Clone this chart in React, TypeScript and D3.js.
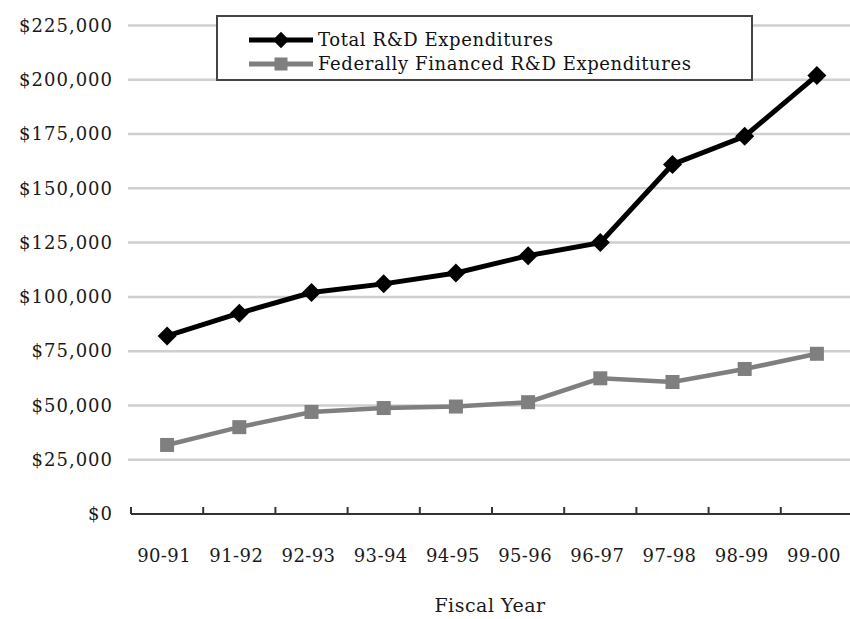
import React, { useEffect, useRef } from 'react'
import * as d3 from 'd3'

const fiscalYears = ['90-91', '91-92', '92-93', '93-94', '94-95', '95-96', '96-97', '97-98', '98-99', '99-00']
const totalRD = [82000, 92500, 102000, 106000, 111000, 119000, 125000, 161000, 174000, 202000]
const federalRD = [31800, 40000, 47000, 48800, 49500, 51500, 62500, 60800, 66800, 73800]
const yTicks = [0, 25000, 50000, 75000, 100000, 125000, 150000, 175000, 200000, 225000]
const seriesNames = ['Total R&D Expenditures', 'Federally Financed R&D Expenditures']

const FONT = '"DejaVu Serif", "Liberation Serif", serif'

const App = () => {
    const svgRef = useRef<SVGSVGElement>(null)

    useEffect(() => {
        const svg: any = d3.select(svgRef.current)
        svg.selectAll('*').remove()

        const x = d3.scaleBand<string>().domain(fiscalYears).range([131, 853]).padding(0)
        const y = d3.scaleLinear().domain([0, 225000]).range([514, 25.5])
        const cx = (d: string) => (x(d) as number) + x.bandwidth() / 2

        // gridlines
        svg.append('g')
            .selectAll('line')
            .data(yTicks.filter(t => t > 0))
            .join('line')
            .attr('x1', 128).attr('x2', 850)
            .attr('y1', (d: number) => y(d)).attr('y2', (d: number) => y(d))
            .attr('stroke', '#cfcfcf')
            .attr('stroke-width', 2.5)

        // y labels
        svg.append('g')
            .selectAll('text')
            .data(yTicks)
            .join('text')
            .attr('x', 113)
            .attr('y', (d: number) => y(d))
            .attr('dy', '0.35em')
            .attr('text-anchor', 'end')
            .attr('font-family', FONT)
            .attr('font-size', 18)
            .attr('letter-spacing', 1)
            .attr('fill', '#1a1a1a')
            .text((d: number) => d3.format('$,')(d))

        // x axis
        const xa = svg.append('g')
        xa.append('line')
            .attr('x1', 131).attr('x2', 850)
            .attr('y1', y(0)).attr('y2', y(0))
            .attr('stroke', '#333').attr('stroke-width', 2)
        xa.selectAll('.tick')
            .data(fiscalYears)
            .join('line')
            .attr('class', 'tick')
            .attr('x1', (d: string) => x(d) as number)
            .attr('x2', (d: string) => x(d) as number)
            .attr('y1', y(0)).attr('y2', y(0) - 7)
            .attr('stroke', '#333').attr('stroke-width', 2)
        xa.selectAll('.lbl')
            .data(fiscalYears)
            .join('text')
            .attr('class', 'lbl')
            .attr('x', (d: string) => cx(d) - 3)
            .attr('y', 562)
            .attr('text-anchor', 'middle')
            .attr('font-family', FONT)
            .attr('font-size', 18)
            .attr('letter-spacing', 0.4)
            .attr('fill', '#1a1a1a')
            .text((d: string) => d)
        xa.append('text')
            .attr('x', 490).attr('y', 612)
            .attr('text-anchor', 'middle')
            .attr('font-family', FONT)
            .attr('font-size', 19)
            .attr('letter-spacing', 0.5)
            .attr('fill', '#1a1a1a')
            .text('Fiscal Year')

        const line = d3.line<number>()
            .x((_, i) => cx(fiscalYears[i]))
            .y(d => y(d))

        // federal series (gray squares)
        svg.append('path')
            .attr('d', line(federalRD))
            .attr('fill', 'none')
            .attr('stroke', '#7f7f7f')
            .attr('stroke-width', 4.5)
        svg.append('g')
            .selectAll('rect')
            .data(federalRD)
            .join('rect')
            .attr('x', (_: number, i: number) => cx(fiscalYears[i]) - 7)
            .attr('y', (d: number) => y(d) - 7)
            .attr('width', 14).attr('height', 14)
            .attr('fill', '#7f7f7f')

        // total series (black diamonds)
        svg.append('path')
            .attr('d', line(totalRD))
            .attr('fill', 'none')
            .attr('stroke', '#000')
            .attr('stroke-width', 5)
        const diamond = d3.symbol().type(d3.symbolDiamond2).size(230)
        svg.append('g')
            .selectAll('path')
            .data(totalRD)
            .join('path')
            .attr('d', diamond)
            .attr('transform', (d: number, i: number) => `translate(${cx(fiscalYears[i])},${y(d)})`)
            .attr('fill', '#000')

        // legend
        const lg = svg.append('g')
        lg.append('rect')
            .attr('x', 217).attr('y', 16)
            .attr('width', 535).attr('height', 64)
            .attr('fill', '#fff')
            .attr('stroke', '#444')
            .attr('stroke-width', 2)
        const rows = [
            { name: seriesNames[0], color: '#000', y: 40, shape: 'diamond' },
            { name: seriesNames[1], color: '#7f7f7f', y: 64, shape: 'square' },
        ]
        const legendDiamond = d3.symbol().type(d3.symbolDiamond2).size(170)
        rows.forEach(r => {
            lg.append('line')
                .attr('x1', 249).attr('x2', 313)
                .attr('y1', r.y).attr('y2', r.y)
                .attr('stroke', r.color).attr('stroke-width', 5)
            if (r.shape === 'diamond') {
                lg.append('path')
                    .attr('d', legendDiamond)
                    .attr('transform', `translate(281,${r.y})`)
                    .attr('fill', r.color)
            } else {
                lg.append('rect')
                    .attr('x', 274.5).attr('y', r.y - 6.5)
                    .attr('width', 13).attr('height', 13)
                    .attr('fill', r.color)
            }
            lg.append('text')
                .attr('x', 318).attr('y', r.y)
                .attr('dy', '0.35em')
                .attr('font-family', FONT)
                .attr('font-size', 18)
                .attr('letter-spacing', 0.6)
                .attr('fill', '#111')
                .text(r.name)
        })
    }, [])

    return (
        <div style={{ position: 'fixed', left: 0, top: 0, width: 850, height: 619, background: '#fff' }}>
            <svg ref={svgRef} width={850} height={619}></svg>
        </div>
    )
}

export default App
